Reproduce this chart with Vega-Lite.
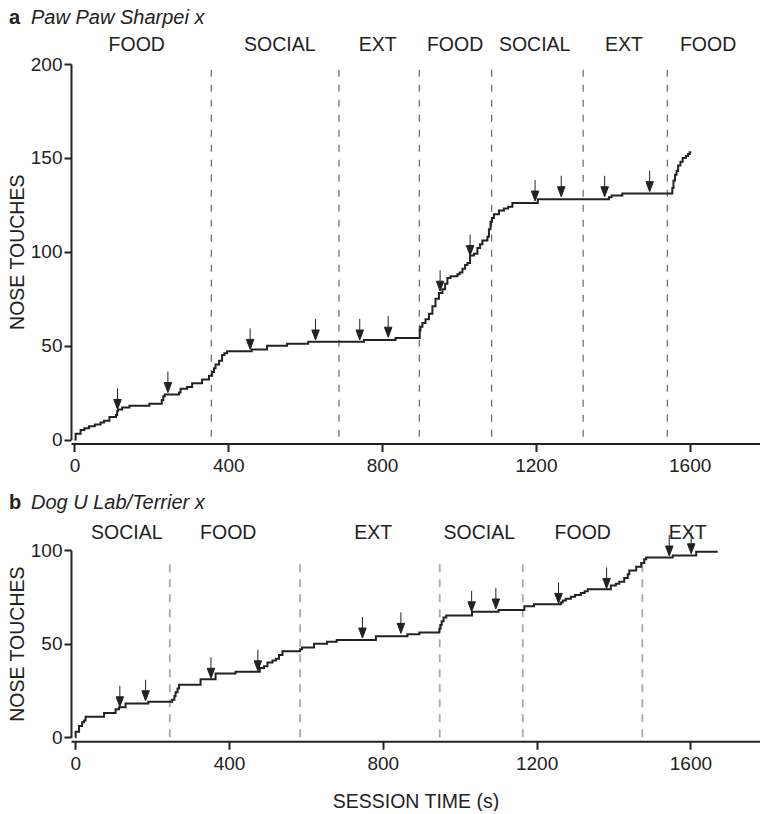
{
  "$schema": "https://vega.github.io/schema/vega-lite/v6.json",
  "background": "white",
  "padding": {"left": 7, "top": 8, "right": 0, "bottom": 0},
  "spacing": 17,
  "config": {
    "view": {"stroke": null},
    "font": "Liberation Sans",
    "text": {"font": "Liberation Sans", "color": "#222"},
    "axis": {"grid": false, "domainColor": "#222", "domainWidth": 2, "tickColor": "#222", "tickWidth": 2, "labelColor": "#222", "labelFont": "Liberation Sans", "labelFontSize": 19, "titleFont": "Liberation Sans", "titleFontSize": 19.5, "titleFontWeight": "normal", "titleColor": "#222"}
  },
  "datasets": {
    "dogA": [
      {"t":0,"n":0},{"t":3,"n":3},{"t":16,"n":5},{"t":26,"n":6},{"t":38,"n":7},{"t":53,"n":8},{"t":68,"n":9},{"t":77,"n":10},{"t":91,"n":12},{"t":108,"n":13},{"t":111,"n":15},{"t":113,"n":16},{"t":124,"n":17},{"t":143,"n":18},{"t":195,"n":19},{"t":227,"n":21},{"t":231,"n":23},{"t":235,"n":24},{"t":272,"n":25},{"t":276,"n":27},{"t":293,"n":28},{"t":306,"n":30},{"t":332,"n":32},{"t":350,"n":34},{"t":358,"n":36},{"t":363,"n":38},{"t":367,"n":40},{"t":376,"n":42},{"t":384,"n":45},{"t":390,"n":46},{"t":397,"n":47},{"t":461,"n":48},{"t":501,"n":50},{"t":553,"n":51},{"t":608,"n":52},{"t":753,"n":53},{"t":835,"n":54},{"t":898,"n":58},{"t":900,"n":60},{"t":905,"n":62},{"t":913,"n":64},{"t":922,"n":67},{"t":931,"n":71},{"t":939,"n":75},{"t":948,"n":78},{"t":957,"n":80},{"t":964,"n":83},{"t":970,"n":86},{"t":978,"n":87},{"t":996,"n":88},{"t":1002,"n":89},{"t":1009,"n":91},{"t":1016,"n":93},{"t":1022,"n":94},{"t":1029,"n":98},{"t":1039,"n":99},{"t":1048,"n":102},{"t":1055,"n":104},{"t":1061,"n":106},{"t":1074,"n":108},{"t":1078,"n":112},{"t":1082,"n":116},{"t":1086,"n":118},{"t":1091,"n":120},{"t":1104,"n":122},{"t":1117,"n":123},{"t":1128,"n":124},{"t":1139,"n":126},{"t":1205,"n":128},{"t":1390,"n":129},{"t":1397,"n":130},{"t":1425,"n":131},{"t":1555,"n":134},{"t":1558,"n":138},{"t":1562,"n":141},{"t":1566,"n":143},{"t":1570,"n":146},{"t":1576,"n":148},{"t":1582,"n":150},{"t":1590,"n":151},{"t":1596,"n":152},{"t":1600,"n":153},{"t":1604,"n":153}
    ],
    "dogB": [
      {"t":0,"n":0},{"t":1,"n":3},{"t":10,"n":6},{"t":18,"n":8},{"t":23,"n":9},{"t":27,"n":11},{"t":75,"n":13},{"t":105,"n":15},{"t":114,"n":16},{"t":131,"n":18},{"t":190,"n":19},{"t":252,"n":20},{"t":258,"n":22},{"t":261,"n":24},{"t":266,"n":26},{"t":270,"n":28},{"t":326,"n":31},{"t":365,"n":34},{"t":417,"n":35},{"t":480,"n":37},{"t":491,"n":38},{"t":500,"n":40},{"t":513,"n":41},{"t":522,"n":42},{"t":530,"n":44},{"t":539,"n":46},{"t":585,"n":47},{"t":590,"n":48},{"t":621,"n":50},{"t":655,"n":51},{"t":680,"n":52},{"t":782,"n":54},{"t":864,"n":55},{"t":895,"n":56},{"t":947,"n":58},{"t":950,"n":60},{"t":953,"n":62},{"t":958,"n":64},{"t":965,"n":65},{"t":1032,"n":67},{"t":1101,"n":68},{"t":1168,"n":70},{"t":1193,"n":71},{"t":1263,"n":72},{"t":1268,"n":73},{"t":1276,"n":74},{"t":1289,"n":75},{"t":1300,"n":76},{"t":1315,"n":77},{"t":1325,"n":78},{"t":1333,"n":79},{"t":1393,"n":81},{"t":1406,"n":82},{"t":1415,"n":83},{"t":1428,"n":85},{"t":1437,"n":87},{"t":1441,"n":89},{"t":1459,"n":91},{"t":1472,"n":93},{"t":1480,"n":95},{"t":1485,"n":96},{"t":1554,"n":97},{"t":1615,"n":99},{"t":1671,"n":99}
    ],
    "arrowsA": [
      {"t":112,"n":16},{"t":243,"n":25},{"t":457,"n":48},{"t":627,"n":53},{"t":742,"n":53},{"t":816,"n":54.5},{"t":951,"n":79},{"t":1029,"n":98},{"t":1198,"n":127},{"t":1266,"n":129.3},{"t":1379,"n":129.3},{"t":1496,"n":132}
    ],
    "arrowsB": [
      {"t":116,"n":16.3},{"t":183,"n":19.5},{"t":353,"n":31.5},{"t":475,"n":35.5},{"t":747,"n":53},{"t":847,"n":55.5},{"t":1031,"n":67},{"t":1094,"n":68.5},{"t":1257,"n":71.5},{"t":1382,"n":79.5},{"t":1545,"n":96.8},{"t":1602,"n":98}
    ],
    "phasesA": [
      {"t":162,"phase":"FOOD"},{"t":534,"phase":"SOCIAL"},{"t":789,"phase":"EXT"},{"t":990,"phase":"FOOD"},{"t":1197,"phase":"SOCIAL"},{"t":1429,"phase":"EXT"},{"t":1648,"phase":"FOOD"}
    ],
    "phasesB": [
      {"t":134,"phase":"SOCIAL"},{"t":398,"phase":"FOOD"},{"t":775,"phase":"EXT"},{"t":1051,"phase":"SOCIAL"},{"t":1320,"phase":"FOOD"},{"t":1593,"phase":"EXT"}
    ],
    "switchA": [{"t":356},{"t":688},{"t":897},{"t":1085},{"t":1323},{"t":1542}],
    "switchB": [{"t":246},{"t":585},{"t":948},{"t":1164},{"t":1475}],
    "labelA": [{"letter":"a","dog":"Paw Paw Sharpei x"}],
    "labelB": [{"letter":"b","dog":"Dog U Lab/Terrier x"}]
  },
  "vconcat": [
    {
      "width": 689,
      "height": 375.5,
      "layer": [
        {
          "data": {"name": "switchA"},
          "mark": {"type": "rule", "strokeDash": [7, 8], "color": "#666", "strokeWidth": 1.2},
          "encoding": {
            "x": {"field": "t", "type": "quantitative", "scale": {"domain": [-9, 1783], "nice": false, "zero": false},
              "axis": {"values": [0, 400, 800, 1200, 1600], "format": "d", "title": null, "offset": 4, "tickSize": 8, "labelPadding": 5}},
            "y": {"datum": 1.5, "type": "quantitative", "scale": {"domain": [0, 200], "nice": false},
              "axis": {"values": [0, 50, 100, 150, 200], "title": "NOSE TOUCHES", "tickSize": 7, "labelPadding": 2, "titlePadding": 3}},
            "y2": {"datum": 201}
          }
        },
        {
          "data": {"name": "dogA"},
          "mark": {"type": "line", "interpolate": "step-after", "color": "#222", "strokeWidth": 2},
          "encoding": {
            "x": {"field": "t", "type": "quantitative"},
            "y": {"field": "n", "type": "quantitative"}
          }
        },
        {
          "data": {"name": "arrowsA"},
          "mark": {"type": "point", "shape": "M0,-4.2L0,-2M-0.75,-2L0.75,-2L0,0Z", "size": 100, "filled": true, "fill": "#222", "stroke": "#222", "strokeWidth": 1, "opacity": 1},
          "encoding": {
            "x": {"field": "t", "type": "quantitative"},
            "y": {"field": "n", "type": "quantitative"}
          }
        },
        {
          "data": {"name": "phasesA"},
          "mark": {"type": "text", "fontSize": 19.5, "baseline": "alphabetic", "dy": -13},
          "encoding": {
            "x": {"field": "t", "type": "quantitative"},
            "y": {"datum": 200},
            "text": {"field": "phase"}
          }
        },
        {
          "data": {"name": "labelA"},
          "mark": {"type": "text", "fontSize": 20, "fontWeight": "bold", "align": "left", "baseline": "alphabetic", "dx": -62, "dy": -40},
          "encoding": {"x": {"datum": -9}, "y": {"datum": 200}, "text": {"field": "letter"}}
        },
        {
          "data": {"name": "labelA"},
          "mark": {"type": "text", "fontSize": 20, "fontStyle": "italic", "align": "left", "baseline": "alphabetic", "dx": -40, "dy": -40},
          "encoding": {"x": {"datum": -9}, "y": {"datum": 200}, "text": {"field": "dog"}}
        }
      ]
    },
    {
      "width": 689,
      "height": 187.3,
      "layer": [
        {
          "data": {"name": "switchB"},
          "mark": {"type": "rule", "strokeDash": [8, 7], "color": "#aaa", "strokeWidth": 1.8},
          "encoding": {
            "x": {"field": "t", "type": "quantitative", "scale": {"domain": [-11, 1781], "nice": false, "zero": false},
              "axis": {"values": [0, 400, 800, 1200, 1600], "format": "d", "title": "SESSION TIME (s)", "offset": 4, "tickSize": 8, "labelPadding": 5, "titlePadding": 19}},
            "y": {"datum": 0, "type": "quantitative", "scale": {"domain": [0, 100], "nice": false},
              "axis": {"values": [0, 50, 100], "title": "NOSE TOUCHES", "tickSize": 7, "labelPadding": 2, "titlePadding": 3}},
            "y2": {"datum": 96}
          }
        },
        {
          "data": {"name": "dogB"},
          "mark": {"type": "line", "interpolate": "step-after", "color": "#222", "strokeWidth": 2},
          "encoding": {
            "x": {"field": "t", "type": "quantitative"},
            "y": {"field": "n", "type": "quantitative"}
          }
        },
        {
          "data": {"name": "arrowsB"},
          "mark": {"type": "point", "shape": "M0,-4.2L0,-2M-0.75,-2L0.75,-2L0,0Z", "size": 100, "filled": true, "fill": "#222", "stroke": "#222", "strokeWidth": 1, "opacity": 1},
          "encoding": {
            "x": {"field": "t", "type": "quantitative"},
            "y": {"field": "n", "type": "quantitative"}
          }
        },
        {
          "data": {"name": "phasesB"},
          "mark": {"type": "text", "fontSize": 19.5, "baseline": "alphabetic", "dy": -11},
          "encoding": {
            "x": {"field": "t", "type": "quantitative"},
            "y": {"datum": 100},
            "text": {"field": "phase"}
          }
        },
        {
          "data": {"name": "labelB"},
          "mark": {"type": "text", "fontSize": 20, "fontWeight": "bold", "align": "left", "baseline": "alphabetic", "dx": -62, "dy": -40.7},
          "encoding": {"x": {"datum": -11}, "y": {"datum": 100}, "text": {"field": "letter"}}
        },
        {
          "data": {"name": "labelB"},
          "mark": {"type": "text", "fontSize": 20, "fontStyle": "italic", "align": "left", "baseline": "alphabetic", "dx": -40, "dy": -40.7},
          "encoding": {"x": {"datum": -11}, "y": {"datum": 100}, "text": {"field": "dog"}}
        }
      ]
    }
  ]
}
